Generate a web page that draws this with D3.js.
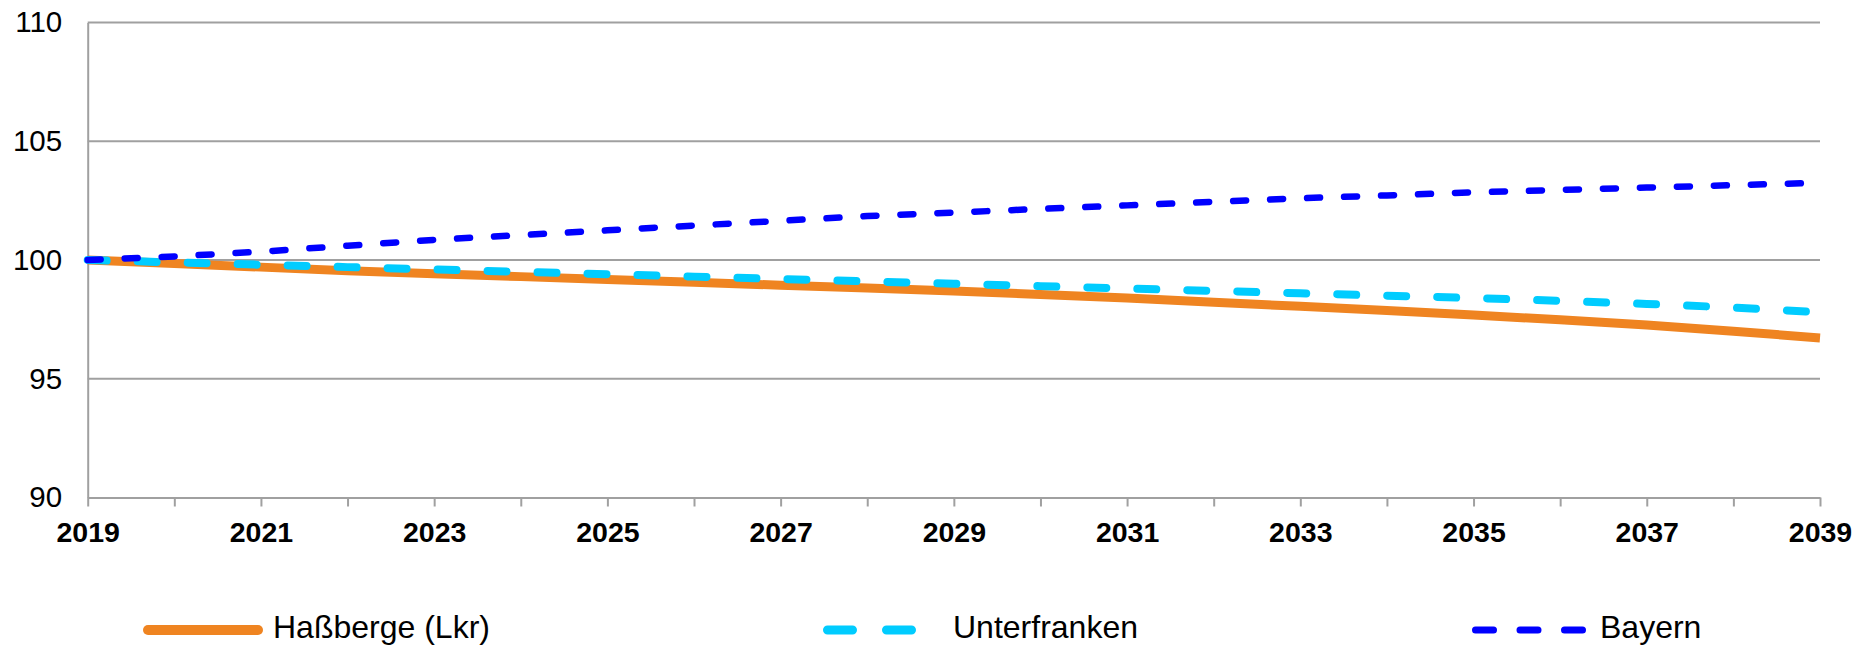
<!DOCTYPE html>
<html><head><meta charset="utf-8">
<script src="https://cdn.jsdelivr.net/npm/d3@7"></script>
<style>
html,body{margin:0;padding:0;background:#fff;}
svg{display:block;font-family:"Liberation Sans",Arial,sans-serif;}
</style></head>
<body>
<svg id="chart" width="1868" height="646"></svg>
<script>
const years = [2019,2020,2021,2022,2023,2024,2025,2026,2027,2028,2029,2030,2031,2032,2033,2034,2035,2036,2037,2038,2039];
const hassberge = [100,99.85,99.7,99.55,99.42,99.3,99.18,99.06,98.94,98.82,98.69,98.55,98.4,98.22,98.05,97.87,97.68,97.48,97.26,97.0,96.72];
const unterfranken = [100,99.9,99.8,99.7,99.6,99.5,99.4,99.3,99.2,99.1,99.0,98.9,98.8,98.7,98.6,98.5,98.4,98.28,98.15,98.0,97.8];
const bayern = [100,100.15,100.35,100.6,100.85,101.05,101.25,101.45,101.65,101.85,102.0,102.15,102.3,102.45,102.6,102.72,102.85,102.95,103.05,103.15,103.25];
const yTicks = [90,95,100,105,110];
const xLabelYears = [2019,2021,2023,2025,2027,2029,2031,2033,2035,2037,2039];
const seriesNames = ["Haßberge (Lkr)","Unterfranken","Bayern"];

(function(){
const svg = d3.select("#chart");
const pL = 87.7, pR = 1820, pT = 22.5, pB = 497.5;
const x = d3.scaleLinear().domain([2019,2039]).range([pL,pR]);
const y = d3.scaleLinear().domain([90,110]).range([pB,pT]);
const grid = "#a0a0a0";

svg.append("g").selectAll("line").data(yTicks.filter(d=>d>90)).join("line")
  .attr("x1",pL).attr("x2",pR).attr("y1",d=>y(d)).attr("y2",d=>y(d))
  .attr("stroke",grid).attr("stroke-width",2);

const yAxis = svg.append("g").attr("transform",`translate(${pL},0)`)
  .call(d3.axisLeft(y).tickValues(yTicks).tickSize(0).tickPadding(25.5).tickFormat(d3.format("d")));
yAxis.select(".domain").attr("stroke",grid).attr("stroke-width",2);
yAxis.selectAll("text").attr("font-size",29.5).attr("fill","#000").attr("font-family","Liberation Sans, Arial, sans-serif");

const xAxis = svg.append("g").attr("transform",`translate(0,${pB})`)
  .call(d3.axisBottom(x).tickValues(years).tickSize(9).tickSizeOuter(0)
    .tickFormat(d=> xLabelYears.includes(d) ? String(d) : ""));
xAxis.select(".domain").attr("stroke",grid).attr("stroke-width",2);
xAxis.selectAll(".tick line").attr("stroke",grid).attr("stroke-width",2);
xAxis.selectAll("text").attr("font-size",28.5).attr("font-weight","bold").attr("fill","#000")
  .attr("font-family","Liberation Sans, Arial, sans-serif").attr("y",24).attr("dy","0.71em");

const line = d3.line().x((d,i)=>x(years[i])).y(d=>y(d));
const styles = [
  {data:hassberge, color:"#ef8421", width:9, dash:null},
  {data:unterfranken, color:"#00ccff", width:8, dash:"19 31"},
  {data:bayern, color:"#0000ff", width:6.5, dash:"13 24"}
];
styles.forEach(s=>{
  svg.append("path").datum(s.data).attr("d",line)
    .attr("fill","none").attr("stroke",s.color).attr("stroke-width",s.width)
    .attr("stroke-linecap", s.dash ? "round" : "butt")
    .attr("stroke-dasharray", s.dash);
});

const legY = 630;
const leg = [
  {x1:148,x2:258,color:"#ef8421",width:10,dash:null,tx:273},
  {x1:827.5,x2:912.5,color:"#00ccff",width:9,dash:"25 34",tx:953},
  {x1:1475.5,x2:1582.5,color:"#0000ff",width:7,dash:"18 26.5",tx:1600}
];
leg.forEach((l,i)=>{
  svg.append("line").attr("x1",l.x1).attr("x2",l.x2).attr("y1",legY).attr("y2",legY)
    .attr("stroke",l.color).attr("stroke-width",l.width).attr("stroke-linecap","round")
    .attr("stroke-dasharray",l.dash);
  svg.append("text").attr("x",l.tx).attr("y",legY+8).attr("font-size",32).attr("fill","#000")
    .text(seriesNames[i]);
});
})();
</script>
</body></html>
